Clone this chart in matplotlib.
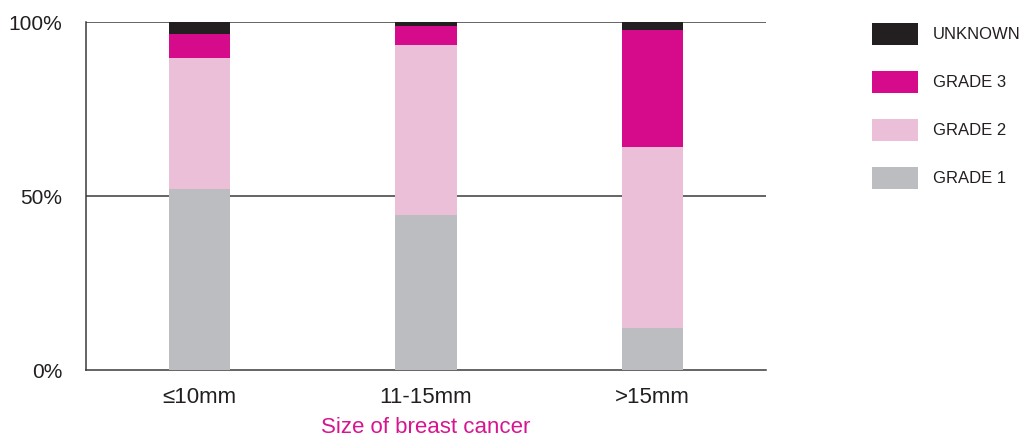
import matplotlib
matplotlib.use("Agg")
import matplotlib.pyplot as plt
import numpy as np

plt.rcParams['font.family'] = ['Liberation Sans', 'DejaVu Sans']

categories = ["≤10mm", "11-15mm", ">15mm"]
grade1 = [52.0, 44.5, 12.1]
grade2 = [37.7, 48.9, 52.0]
grade3 = [6.9, 5.5, 33.6]
unknown = [3.4, 1.1, 2.3]

series = [("GRADE 1", grade1, "#bcbdc1"),
          ("GRADE 2", grade2, "#ecbfd9"),
          ("GRADE 3", grade3, "#d60b8c"),
          ("UNKNOWN", unknown, "#231f20")]

W, H = 1021, 437
fig = plt.figure(figsize=(W / 100, H / 100), dpi=100)
ax = fig.add_axes([86 / W, (H - 370) / H, 680 / W, 348 / H])

x = np.arange(len(categories))
bottom = np.zeros(len(categories))
handles = []
for label, vals, color in series:
    b = ax.bar(x, vals, width=0.27, bottom=bottom, color=color, label=label,
               zorder=3, linewidth=0)
    bottom += np.array(vals)
    handles.append(b)

ax.set_xlim(-0.5, 2.5)
ax.set_ylim(0, 100)
ax.set_yticks([0, 50, 100])
ax.set_yticklabels(["0%", "50%", "100%"])
for yv in [50, 100]:
    ax.axhline(yv, color="#3a3a3a", linewidth=1.1, zorder=1)

for s in ["top", "right"]:
    ax.spines[s].set_visible(False)
for s in ["left", "bottom"]:
    ax.spines[s].set_color("#3a3a3a")
    ax.spines[s].set_linewidth(1.1)

ax.set_xticks(x)
ax.set_xticklabels(categories)
ax.tick_params(axis="x", length=0, pad=12, labelsize=16, colors="#231f20")
ax.tick_params(axis="y", length=0, pad=17, labelsize=15, colors="#231f20")
ax.set_xlabel("Size of breast cancer", color="#d6168f", fontsize=16, labelpad=7)

fs = 12
px = fs * 100 / 72
leg = fig.legend(handles[::-1], [s[0] for s in series][::-1],
                 loc="upper left", bbox_to_anchor=(872 / W, 1 - 23 / H),
                 frameon=False, fontsize=fs, handlelength=46 / px,
                 handleheight=1.654, labelspacing=26 / px,
                 handletextpad=15 / px, borderaxespad=0, borderpad=0)
for t in leg.get_texts():
    t.set_color("#231f20")

fig.savefig("out.png", dpi=100)
